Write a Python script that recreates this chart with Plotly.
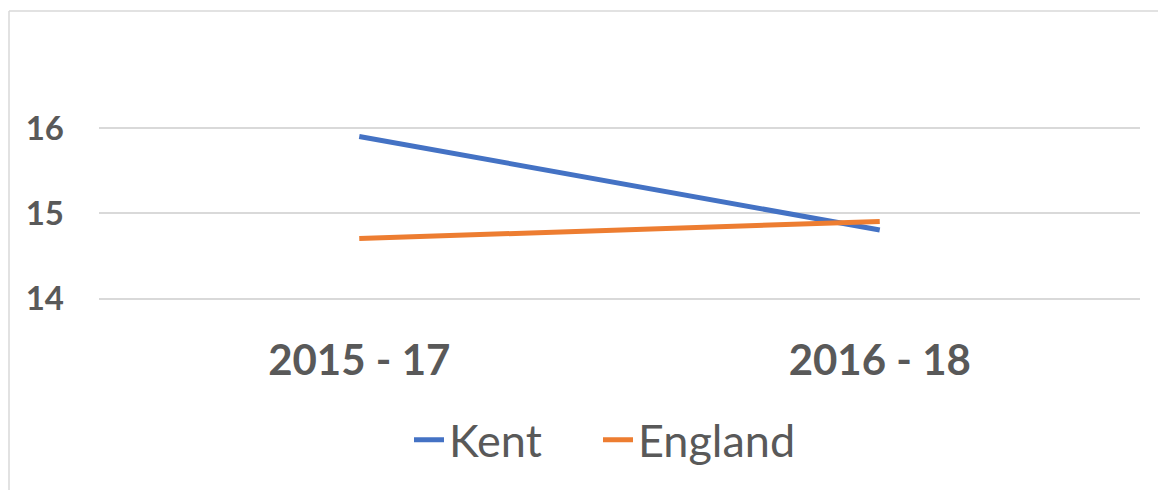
import plotly.graph_objects as go

categories = ["2015 - 17", "2016 - 18"]
kent = [15.9, 14.8]
england = [14.7, 14.9]
y_ticks = [14, 15, 16]

# the page draws the figure 8px in from the top-left corner
OFF = 8
W, H = 1166 - OFF, 490 - OFF
L, R, T, B = 99 - OFF, 26, 43 - OFF, 192
pw, ph = W - L - R, H - T - B

def px_x(x):
    return (x - OFF - L) / pw

def px_y(y):
    return (H - B - (y - OFF)) / ph

def cx(x):
    return (x - OFF) / W

def cy(y):
    return (H - (y - OFF)) / H

fig = go.Figure()
fig.add_trace(go.Scatter(x=categories, y=kent, mode="lines", name="Kent",
                         line=dict(color="#4472C4", width=5), legend="legend"))
fig.add_trace(go.Scatter(x=categories, y=england, mode="lines", name="England",
                         line=dict(color="#ED7D31", width=5), legend="legend2"))

leg_common = dict(orientation="h", xref="container", yref="container", xanchor="left",
                  yanchor="middle", font=dict(size=45, color="#595959"), itemwidth=30,
                  bgcolor="rgba(0,0,0,0)")

fig.update_layout(
    width=W, height=H,
    margin=dict(l=L, r=R, t=T, b=B, autoexpand=False),
    paper_bgcolor="white", plot_bgcolor="white",
    font=dict(family="Lato, Open Sans, sans-serif", color="#595959"),
    showlegend=True,
    legend=dict(x=cx(409), y=cy(440), **leg_common),
    legend2=dict(x=cx(598), y=cy(440), **leg_common),
    xaxis=dict(type="category", range=[-0.5, 1.5], showgrid=False, zeroline=False,
               showline=True, linecolor="#D9D9D9", linewidth=1.5, ticks="",
               ticklabelstandoff=25,
               tickfont=dict(size=42, color="#595959", family="Lato, sans-serif", weight="bold")),
    yaxis=dict(range=[14, 17], tickvals=y_ticks, showgrid=True, gridcolor="#D9D9D9",
               gridwidth=1.5, zeroline=False, showline=False, ticks="", ticklabelstandoff=34,
               tickfont=dict(size=33, color="#595959", family="Lato, sans-serif", weight="bold")),
    shapes=[
        dict(type="line", xref="paper", yref="paper", x0=px_x(9), x1=px_x(1166),
             y0=px_y(11), y1=px_y(11), line=dict(color="#D9D9D9", width=1.5)),
        dict(type="line", xref="paper", yref="paper", x0=px_x(9), x1=px_x(9),
             y0=px_y(11), y1=px_y(490), line=dict(color="#D9D9D9", width=1.5)),
    ],
)

fig.write_html("out.html")
